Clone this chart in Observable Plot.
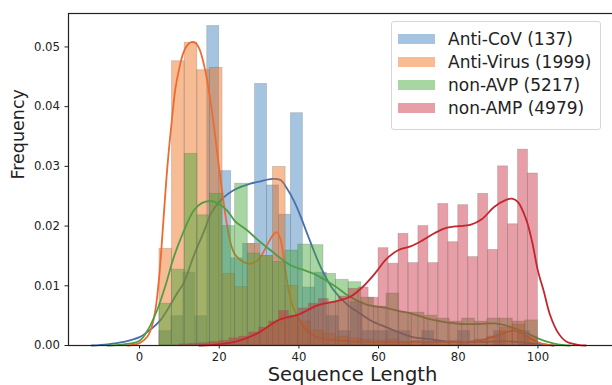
<!DOCTYPE html>
<html>
<head>
<meta charset="utf-8">
<script src="https://cdn.jsdelivr.net/npm/d3@7"></script>
<script src="https://cdn.jsdelivr.net/npm/@observablehq/plot@0.6"></script>
<style>
  html, body { margin: 0; padding: 0; background: #fff; overflow: hidden; }
  #wrap { position: relative; width: 612px; height: 385px; overflow: hidden; font-family: "DejaVu Sans", sans-serif; }
  #chart svg { max-width: none !important; display: block; }
  #legend { position: absolute; left: 391px; top: 21px; width: 210px; height: 109px; box-sizing: border-box;
            border: 1px solid #d6d6d6; border-radius: 3px; background: rgba(255,255,255,0.8); }
  .sw { position: absolute; left: 6px; width: 37px; height: 10px; }
  .lab { position: absolute; left: 56px; font-size: 17px; color: #222; white-space: nowrap; line-height: 20px; }
</style>
</head>
<body>
<div id="wrap"><div id="chart"></div><div id="legend"></div></div>
<script>
// ---- series names ----
const seriesNames = ["Anti-CoV (137)", "Anti-Virus (1999)", "non-AVP (5217)", "non-AMP (4979)"];
const barColors = ["#357cb8", "#ef6a13", "#3ea430", "#c9283a"];
const lineColors = ["#4a6fad", "#ef6a2e", "#4f9e44", "#c4262e"];

// ---- histogram bins (start, width) and bar heights ----
const blueStart = 5, blueWidth = 3;
const blueHeights = [0.0024, 0.0049, 0.0122, 0.0049, 0.0535, 0.0292, 0.0146, 0.0170, 0.0438, 0.0268,
                     0.0219, 0.0389, 0.0097, 0.0122, 0.0049, 0.0024, 0.0073, 0.0024, 0.0024, 0.0024,
                     0.0024, 0, 0.0024, 0, 0, 0.0024, 0, 0, 0.0024, 0, 0.0024];
const orangeStart = 5, orangeWidth = 95 / 30;
const orangeHeights = [0.0162, 0.0476, 0.0507, 0.0461, 0.0465, 0.0120, 0.0098, 0.0170, 0.0150, 0.0299,
                       0.0100, 0.0040, 0.0025, 0.0020, 0.0015, 0.0012, 0.0010, 0.0008, 0.0010, 0.0006,
                       0.0008, 0.0006, 0.0006, 0.0008, 0.0006, 0.0010, 0.0015, 0.0030, 0.0035, 0.0015];
const greenStart = 5, greenWidth = 95 / 30;
const greenHeights = [0.0070, 0.0127, 0.0321, 0.0218, 0.0254, 0.0200, 0.0271, 0.0154, 0.0150, 0.0140,
                      0.0159, 0.0169, 0.0168, 0.0120, 0.0110, 0.0106, 0.0080, 0.0065, 0.0087, 0.0055,
                      0.0055, 0.0050, 0.0045, 0.0040, 0.0045, 0.0040, 0.0045, 0.0045, 0.0040, 0.0042];
const redStart = 10, redWidth = 2.5;
const redHeights = [0.0002, 0.0003, 0.0004, 0.0006, 0.0008, 0.0012, 0.0015, 0.0022, 0.0030, 0.0040,
                    0.0058, 0.0050, 0.0062, 0.0070, 0.0078, 0.0072, 0.0082, 0.0095, 0.0097, 0.0080,
                    0.0163, 0.0137, 0.0187, 0.0138, 0.0200, 0.0138, 0.0237, 0.0173, 0.0235, 0.0148,
                    0.0254, 0.0160, 0.0300, 0.0203, 0.0328, 0.0288];

// ---- KDE curves ----
const blueKdeX = [-12, -8, -4, 0, 3, 5.2, 7, 9.4, 11.1, 13.6, 16.1, 18, 20.3, 21.1, 23.6, 27.8, 30.4, 33.3, 35.4, 37, 38.7, 40.5, 42.1, 45.5, 48.8, 52.2, 55.5, 58, 61.8, 64, 68.5, 72.3, 78.2, 85, 92, 98, 104];
const blueKdeY = [0, 0.0002, 0.0006, 0.0014, 0.0028, 0.0042, 0.0060, 0.0087, 0.0105, 0.0150, 0.0190, 0.0222, 0.0243, 0.0248, 0.0260, 0.0271, 0.0275, 0.0279, 0.0277, 0.0263, 0.0243, 0.0215, 0.0187, 0.0131, 0.0092, 0.0068, 0.0053, 0.0042, 0.0031, 0.0025, 0.0014, 0.0011, 0.0006, 0.0006, 0.0007, 0.0004, 0];
const orangeKdeX = [-3, 0, 2, 3, 4, 5, 6, 7, 8, 9, 10, 11, 12, 13, 14, 15, 16, 17, 18, 19, 20, 21, 22, 23, 24, 26, 28, 30, 32, 33.5, 34.5, 35.5, 36.5, 37.5, 38.5, 40, 42, 45, 50, 60, 70, 80, 85, 88, 91, 94, 96, 98, 101, 104];
const orangeKdeY = [0, 0.0004, 0.0015, 0.003, 0.006, 0.012, 0.021, 0.030, 0.037, 0.043, 0.0465, 0.049, 0.0503, 0.0508, 0.0507, 0.0497, 0.0475, 0.0443, 0.0400, 0.0350, 0.0295, 0.0245, 0.0200, 0.0168, 0.0152, 0.0140, 0.0137, 0.0145, 0.0168, 0.0185, 0.0190, 0.0175, 0.0130, 0.0090, 0.0065, 0.0045, 0.0025, 0.0013, 0.0008, 0.0006, 0.0006, 0.0006, 0.0008, 0.0013, 0.0020, 0.0025, 0.0020, 0.0012, 0.0003, 0];
const greenKdeX = [-8, -4, 0, 2, 4.4, 6.5, 8.6, 11, 13.6, 15.5, 17.8, 20, 22, 24, 27, 30, 33, 35.4, 38, 41, 43.8, 47, 50, 52.2, 56.8, 61.8, 65, 68.5, 72.3, 76, 80.7, 85, 89.1, 93.3, 97.5, 100, 102.5, 105, 108];
const greenKdeY = [0, 0.0002, 0.0008, 0.0025, 0.0059, 0.0100, 0.0148, 0.0190, 0.0226, 0.0238, 0.0242, 0.0237, 0.0226, 0.0208, 0.0193, 0.0175, 0.0159, 0.0146, 0.0134, 0.0127, 0.0120, 0.0108, 0.0095, 0.0084, 0.0069, 0.0063, 0.0058, 0.0053, 0.0045, 0.0040, 0.0036, 0.0036, 0.0037, 0.0031, 0.0020, 0.0012, 0.0006, 0.0002, 0];
const redKdeX = [15, 20, 25, 30, 35, 40, 45, 50, 53, 56, 59, 62, 65, 68, 71, 74, 77, 80, 83, 86, 89, 92, 93.5, 95, 97, 98.5, 100, 101.5, 103, 105, 107, 110, 112];
const redKdeY = [0, 0.0002, 0.0008, 0.0022, 0.0043, 0.0052, 0.0068, 0.0075, 0.0082, 0.0098, 0.0120, 0.0145, 0.0160, 0.0166, 0.0176, 0.0188, 0.0197, 0.0200, 0.0202, 0.0212, 0.0232, 0.0244, 0.0246, 0.0240, 0.0212, 0.0175, 0.0125, 0.0090, 0.0052, 0.0022, 0.0007, 0.0001, 0];

// ---- axis ticks ----
const xTicks = [0, 20, 40, 60, 80, 100];
const yTicks = [0, 0.01, 0.02, 0.03, 0.04, 0.05];

function bars(start, width, heights) {
  return heights.map((h, i) => ({x1: start + i * width, x2: start + (i + 1) * width, h}));
}
function curve(xs, ys) { return xs.map((x, i) => ({x, y: ys[i]})); }

const series = [
  {bars: bars(blueStart, blueWidth, blueHeights), kde: curve(blueKdeX, blueKdeY)},
  {bars: bars(orangeStart, orangeWidth, orangeHeights), kde: curve(orangeKdeX, orangeKdeY)},
  {bars: bars(greenStart, greenWidth, greenHeights), kde: curve(greenKdeX, greenKdeY)},
  {bars: bars(redStart, redWidth, redHeights), kde: curve(redKdeX, redKdeY)}
];

const marks = [];
series.forEach((s, i) => {
  marks.push(Plot.rectY(s.bars, {x1: "x1", x2: "x2", y: "h", fill: barColors[i], fillOpacity: 0.45,
    stroke: "#6f6f6f", strokeOpacity: 0.35, strokeWidth: 0.8, inset: 0}));
  marks.push(Plot.line(s.kde, {x: "x", y: "y", stroke: lineColors[i], strokeWidth: 1.8, curve: "catmull-rom"}));
});
marks.push(Plot.frame({stroke: "#222", strokeWidth: 1.2}));
marks.push(Plot.axisX({ticks: xTicks, tickSize: 3.5, tickPadding: 4, fontSize: 11.7, label: null, color: "#222"}));
marks.push(Plot.axisY({ticks: yTicks, tickFormat: d3.format(".2f"), tickSize: 3.5, tickPadding: 5, fontSize: 11.7, label: null, color: "#222"}));
marks.push(Plot.text(["Sequence Length"], {frameAnchor: "bottom", dy: 35.5, lineAnchor: "bottom", fontSize: 19.5, fill: "#222"}));
marks.push(Plot.text(["Frequency"], {frameAnchor: "left", dx: -50, rotate: -90, fontSize: 17.5, fill: "#222"}));

const chart = Plot.plot({
  width: 636, height: 385,
  marginLeft: 68, marginRight: 0, marginTop: 13, marginBottom: 40,
  x: {domain: [-17.83, 124.74]},
  y: {domain: [0, 0.0556]},
  style: {fontFamily: "DejaVu Sans, sans-serif", background: "transparent", maxWidth: "none"},
  marks
});
chart.style.maxWidth = "none";
chart.style.width = "636px";
chart.style.height = "385px";
document.getElementById("chart").appendChild(chart);

// ---- legend ----
const legend = document.getElementById("legend");
const rowTops = [7, 30, 53, 76];
seriesNames.forEach((name, i) => {
  const sw = document.createElement("div");
  sw.className = "sw";
  sw.style.top = (rowTops[i] + 5) + "px";
  sw.style.background = barColors[i];
  sw.style.opacity = 0.45;
  legend.appendChild(sw);
  const lab = document.createElement("div");
  lab.className = "lab";
  lab.style.top = rowTops[i] + "px";
  lab.textContent = name;
  legend.appendChild(lab);
});
</script>
</body>
</html>
